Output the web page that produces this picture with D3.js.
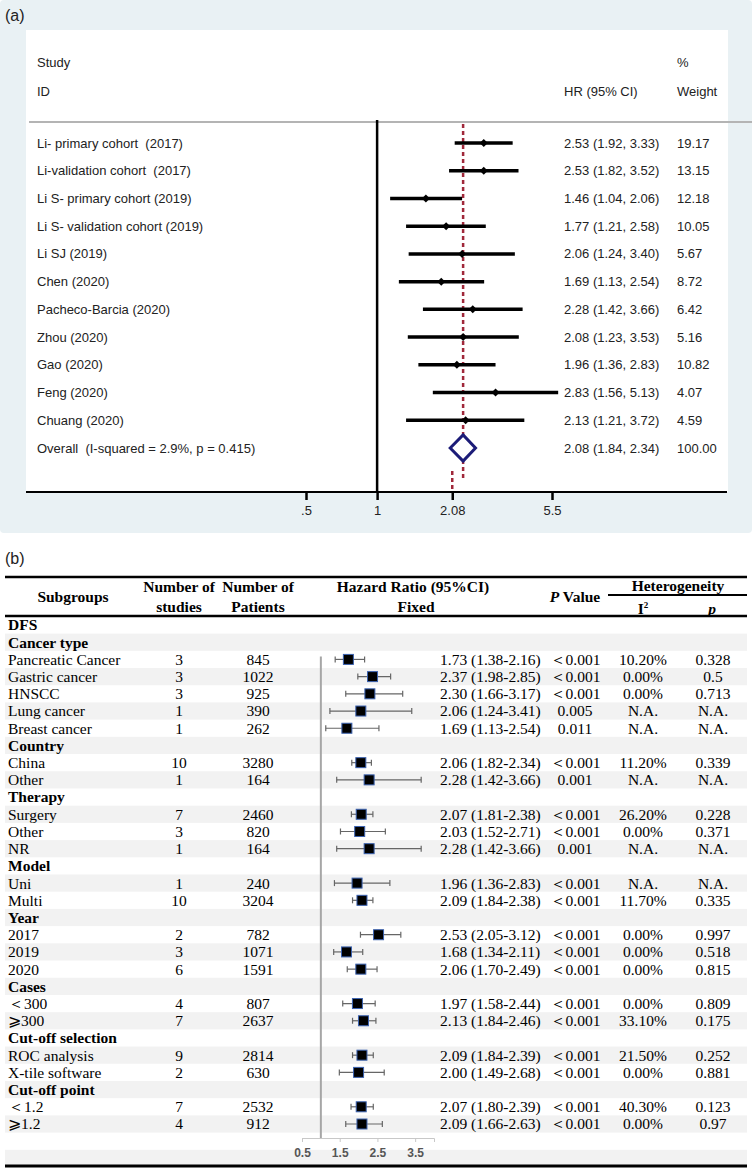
<!DOCTYPE html>
<html>
<head>
<meta charset="utf-8">
<script src="https://cdn.jsdelivr.net/npm/d3@7"></script>
<style>
  body { margin: 0; background: #fff; }
  text { white-space: pre; }
</style>
</head>
<body>
<div id="chart"></div>
<script>
// ---- panel (a) data ----
var studyNames = ["Li- primary cohort  (2017)", "Li-validation cohort  (2017)", "Li S- primary cohort (2019)",
  "Li S- validation cohort (2019)", "Li SJ (2019)", "Chen (2020)", "Pacheco-Barcia (2020)",
  "Zhou (2020)", "Gao (2020)", "Feng (2020)", "Chuang (2020)"];
var studyHR = [2.53, 2.53, 1.46, 1.77, 2.06, 1.69, 2.28, 2.08, 1.96, 2.83, 2.13];
var studyLo = [1.92, 1.82, 1.04, 1.21, 1.24, 1.13, 1.42, 1.23, 1.36, 1.56, 1.21];
var studyHi = [3.33, 3.52, 2.06, 2.58, 3.40, 2.54, 3.66, 3.53, 2.83, 5.13, 3.72];
var studyWeight = ["19.17", "13.15", "12.18", "10.05", "5.67", "8.72", "6.42", "5.16", "10.82", "4.07", "4.59"];
var overallLabel = "Overall  (I-squared = 2.9%, p = 0.415)";
var overall = {hr: 2.08, lo: 1.84, hi: 2.34, weight: "100.00"};
var axisTicksA = [0.5, 1, 2.08, 5.5];
var axisLabelsA = [".5", "1", "2.08", "5.5"];

// ---- panel (b) data ----
var subLabels = ["DFS", "Cancer type", "Pancreatic Cancer", "Gastric cancer", "HNSCC", "Lung cancer", "Breast cancer",
  "Country", "China", "Other", "Therapy", "Surgery", "Other", "NR", "Model", "Uni", "Multi",
  "Year", "2017", "2019", "2020", "Cases", "＜300", "⩾300", "Cut-off selection", "ROC analysis", "X-tile software",
  "Cut-off point", "＜1.2", "⩾1.2"];
var subStudies = [null, null, 3, 3, 3, 1, 1, null, 10, 1, null, 7, 3, 1, null, 1, 10, null, 2, 3, 6, null, 4, 7, null, 9, 2, null, 7, 4];
var subPatients = [null, null, 845, 1022, 925, 390, 262, null, 3280, 164, null, 2460, 820, 164, null, 240, 3204, null, 782, 1071, 1591, null, 807, 2637, null, 2814, 630, null, 2532, 912];
var subHR = [null, null, 1.73, 2.37, 2.30, 2.06, 1.69, null, 2.06, 2.28, null, 2.07, 2.03, 2.28, null, 1.96, 2.09, null, 2.53, 1.68, 2.06, null, 1.97, 2.13, null, 2.09, 2.00, null, 2.07, 2.09];
var subLo = [null, null, 1.38, 1.98, 1.66, 1.24, 1.13, null, 1.82, 1.42, null, 1.81, 1.52, 1.42, null, 1.36, 1.84, null, 2.05, 1.34, 1.70, null, 1.58, 1.84, null, 1.84, 1.49, null, 1.80, 1.66];
var subHi = [null, null, 2.16, 2.85, 3.17, 3.41, 2.54, null, 2.34, 3.66, null, 2.38, 2.71, 3.66, null, 2.83, 2.38, null, 3.12, 2.11, 2.49, null, 2.44, 2.46, null, 2.39, 2.68, null, 2.39, 2.63];
var subP = [null, null, "＜0.001", "＜0.001", "＜0.001", "0.005", "0.011", null, "＜0.001", "0.001", null, "＜0.001", "＜0.001", "0.001", null, "＜0.001", "＜0.001", null, "＜0.001", "＜0.001", "＜0.001", null, "＜0.001", "＜0.001", null, "＜0.001", "＜0.001", null, "＜0.001", "＜0.001"];
var subI2 = [null, null, "10.20%", "0.00%", "0.00%", "N.A.", "N.A.", null, "11.20%", "N.A.", null, "26.20%", "0.00%", "N.A.", null, "N.A.", "11.70%", null, "0.00%", "0.00%", "0.00%", null, "0.00%", "33.10%", null, "21.50%", "0.00%", null, "40.30%", "0.00%"];
var subPhet = [null, null, "0.328", "0.5", "0.713", "N.A.", "N.A.", null, "0.339", "N.A.", null, "0.228", "0.371", "N.A.", null, "N.A.", "0.335", null, "0.997", "0.518", "0.815", null, "0.809", "0.175", null, "0.252", "0.881", null, "0.123", "0.97"];
var axisTicksB = [0.5, 1.5, 2.5, 3.5];

var svgWidth = 752;
var svgHeight = 1170;

var svg = d3.select("#chart").append("svg")
  .attr("width", svgWidth)
  .attr("height", svgHeight);

var sans = "'Liberation Sans', Arial, sans-serif";
var serif = "'Liberation Serif', 'Times New Roman', serif";

// ================= panel (a) =================
var panelA = svg.append("g").attr("font-family", sans).attr("font-size", 13).attr("fill", "#222");

panelA.append("rect").attr("x", 0).attr("y", 0).attr("width", 752).attr("height", 533)
  .attr("rx", 4).attr("fill", "#e9f1f4");
panelA.append("rect").attr("x", 26).attr("y", 30).attr("width", 702).attr("height", 462)
  .attr("fill", "#fff");

panelA.append("text").attr("x", 5).attr("y", 15).attr("dy", "0.35em")
  .attr("font-size", 16).text("(a)");

// axis scale (ticks and null line) and plot scale (marks) as they sit in the picture
var xA = d3.scaleLog().domain([0.5, 5.5]).range([306, 552]);
var xP = d3.scaleLog().domain([1, 5.5]).range([386, 565.5]);

var rowA = d3.scaleLinear().domain([0, 11]).range([143, 448]);

var headA = [
  {t: "Study", x: 37, y: 62},
  {t: "ID", x: 37, y: 91},
  {t: "HR (95% CI)", x: 564, y: 91},
  {t: "%", x: 677, y: 62},
  {t: "Weight", x: 677, y: 91}
];
panelA.selectAll(".headA").data(headA).enter().append("text")
  .attr("x", d => d.x).attr("y", d => d.y).attr("dy", "0.35em").text(d => d.t);

panelA.append("line").attr("x1", 29).attr("x2", 752).attr("y1", 122).attr("y2", 122)
  .attr("stroke", "#b4b4b4").attr("stroke-width", 2);

// null line
panelA.append("line").attr("x1", xA(1)).attr("x2", xA(1)).attr("y1", 120).attr("y2", 492)
  .attr("stroke", "#000").attr("stroke-width", 2.5);

// overall dashed line
panelA.append("line").attr("x1", xP(overall.hr)).attr("x2", xP(overall.hr))
  .attr("y1", 124).attr("y2", 478)
  .attr("stroke", "#a0283a").attr("stroke-width", 2.5).attr("stroke-dasharray", "4,3");
panelA.append("line").attr("x1", xA(overall.hr)).attr("x2", xA(overall.hr))
  .attr("y1", 471).attr("y2", 492)
  .attr("stroke", "#a0283a").attr("stroke-width", 2.5).attr("stroke-dasharray", "4,3");

var studyRows = panelA.selectAll(".study").data(studyNames).enter().append("g");

studyRows.append("text").attr("x", 37).attr("y", (d, i) => rowA(i)).attr("dy", "0.35em").text(d => d);

studyRows.append("line")
  .attr("x1", (d, i) => xP(studyLo[i])).attr("x2", (d, i) => xP(studyHi[i]))
  .attr("y1", (d, i) => rowA(i)).attr("y2", (d, i) => rowA(i))
  .attr("stroke", "#000").attr("stroke-width", 3.5);

studyRows.append("path")
  .attr("d", function(d, i) {
    var cx = xP(studyHR[i]), cy = rowA(i), s = 4;
    return "M" + (cx - s) + "," + cy + "L" + cx + "," + (cy - s) + "L" + (cx + s) + "," + cy + "L" + cx + "," + (cy + s) + "Z";
  })
  .attr("fill", "#000");

studyRows.append("text").attr("x", 564).attr("y", (d, i) => rowA(i)).attr("dy", "0.35em")
  .text((d, i) => studyHR[i].toFixed(2) + " (" + studyLo[i].toFixed(2) + ", " + studyHi[i].toFixed(2) + ")");
studyRows.append("text").attr("x", 677).attr("y", (d, i) => rowA(i)).attr("dy", "0.35em")
  .text((d, i) => studyWeight[i]);

// overall row
var oy = rowA(11);
panelA.append("text").attr("x", 37).attr("y", oy).attr("dy", "0.35em").text(overallLabel);
panelA.append("path")
  .attr("d", "M" + xP(overall.lo) + "," + oy + "L" + xP(overall.hr) + "," + (oy - 13) +
    "L" + xP(overall.hi) + "," + oy + "L" + xP(overall.hr) + "," + (oy + 13) + "Z")
  .attr("fill", "#fff").attr("stroke", "#1c1c78").attr("stroke-width", 3);
panelA.append("text").attr("x", 564).attr("y", oy).attr("dy", "0.35em")
  .text(overall.hr.toFixed(2) + " (" + overall.lo.toFixed(2) + ", " + overall.hi.toFixed(2) + ")");
panelA.append("text").attr("x", 677).attr("y", oy).attr("dy", "0.35em").text(overall.weight);

// bottom axis
panelA.append("line").attr("x1", 26).attr("x2", 727).attr("y1", 492).attr("y2", 492)
  .attr("stroke", "#000").attr("stroke-width", 2);
var axisA = panelA.append("g").attr("transform", "translate(0,492)")
  .call(d3.axisBottom(xA).tickValues(axisTicksA).tickFormat((d, i) => axisLabelsA[i]).tickSize(8).tickPadding(6));
axisA.select(".domain").remove();
axisA.selectAll(".tick line").attr("stroke", "#000").attr("stroke-width", 2.5);
axisA.selectAll(".tick text").attr("font-family", sans).attr("font-size", 13).attr("fill", "#222");

// ================= panel (b) =================
var panelB = svg.append("g").attr("font-family", serif).attr("font-size", 15.5).attr("fill", "#000");

panelB.append("text").attr("x", 5).attr("y", 558).attr("dy", "0.35em")
  .attr("font-family", sans).attr("font-size", 16).attr("fill", "#222").text("(b)");

var rowB = d3.scaleLinear().domain([0, 29]).range([625, 1124]);
var rowH = rowB(1) - rowB(0);

// zebra bands (rows + axis rows)
var bandIdx = d3.range(32).filter(i => i % 2 === 1);
panelB.selectAll(".band").data(bandIdx).enter().append("rect")
  .attr("x", 5).attr("width", 742)
  .attr("y", d => rowB(d) - rowH / 2).attr("height", rowH)
  .attr("fill", "#f2f2f2");

// table rules
panelB.append("line").attr("x1", 5).attr("x2", 747).attr("y1", 577).attr("y2", 577)
  .attr("stroke", "#000").attr("stroke-width", 2.5);
panelB.append("line").attr("x1", 5).attr("x2", 747).attr("y1", 616).attr("y2", 616)
  .attr("stroke", "#000").attr("stroke-width", 2.5);
panelB.append("line").attr("x1", 608).attr("x2", 747).attr("y1", 595).attr("y2", 595)
  .attr("stroke", "#000").attr("stroke-width", 2);
panelB.append("line").attr("x1", 5).attr("x2", 747).attr("y1", 1166).attr("y2", 1166)
  .attr("stroke", "#000").attr("stroke-width", 3);

// header
var headB = [
  {t: "Subgroups", x: 73, y: 597},
  {t: "Number of", x: 179, y: 587},
  {t: "studies", x: 179, y: 607},
  {t: "Number of", x: 258, y: 587},
  {t: "Patients", x: 258, y: 607},
  {t: "Hazard Ratio (95%CI)", x: 413, y: 587},
  {t: "Fixed", x: 416, y: 607},
  {t: "Heterogeneity", x: 678, y: 586}
];
panelB.selectAll(".headB").data(headB).enter().append("text")
  .attr("x", d => d.x).attr("y", d => d.y).attr("dy", "0.35em")
  .attr("text-anchor", "middle").attr("font-weight", "bold").text(d => d.t);

var pv = panelB.append("text").attr("x", 575).attr("y", 597).attr("dy", "0.35em")
  .attr("text-anchor", "middle").attr("font-weight", "bold");
pv.append("tspan").attr("font-style", "italic").text("P");
pv.append("tspan").text(" Value");

var i2h = panelB.append("text").attr("x", 643).attr("y", 609).attr("dy", "0.35em")
  .attr("text-anchor", "middle").attr("font-weight", "bold");
i2h.append("tspan").text("I");
i2h.append("tspan").attr("font-size", 9).attr("dy", "-0.7em").text("2");

panelB.append("text").attr("x", 712).attr("y", 609).attr("dy", "0.35em")
  .attr("text-anchor", "middle").attr("font-weight", "bold").attr("font-style", "italic").text("p");

// forest scale
var xB = d3.scaleLinear().domain([0.5, 4]).range([302, 434]);

panelB.append("line").attr("x1", xB(1)).attr("x2", xB(1))
  .attr("y1", rowB(2) - 3).attr("y2", 1138)
  .attr("stroke", "#a6a6a6").attr("stroke-width", 2);

// row labels
panelB.selectAll(".lab").data(d3.range(subLabels.length)).enter().append("text")
  .attr("x", 8).attr("y", i => rowB(i)).attr("dy", "0.35em")
  .attr("font-weight", i => subHR[i] === null ? "bold" : "normal")
  .text(i => subLabels[i]);

var idx = d3.range(subLabels.length).filter(i => subHR[i] !== null);
var dr = panelB.selectAll(".drow").data(idx).enter().append("g");

dr.append("text").attr("x", 179).attr("y", i => rowB(i)).attr("dy", "0.35em")
  .attr("text-anchor", "middle").text(i => subStudies[i]);
dr.append("text").attr("x", 258).attr("y", i => rowB(i)).attr("dy", "0.35em")
  .attr("text-anchor", "middle").text(i => subPatients[i]);
dr.append("text").attr("x", 440).attr("y", i => rowB(i)).attr("dy", "0.35em")
  .text(i => subHR[i].toFixed(2) + " (" + subLo[i].toFixed(2) + "-" + subHi[i].toFixed(2) + ")");
dr.append("text").attr("x", 575).attr("y", i => rowB(i)).attr("dy", "0.35em")
  .attr("text-anchor", "middle").text(i => subP[i]);
dr.append("text").attr("x", 643).attr("y", i => rowB(i)).attr("dy", "0.35em")
  .attr("text-anchor", "middle").text(i => subI2[i]);
dr.append("text").attr("x", 713).attr("y", i => rowB(i)).attr("dy", "0.35em")
  .attr("text-anchor", "middle").text(i => subPhet[i]);

// CI whiskers + caps
dr.append("line")
  .attr("x1", i => xB(subLo[i])).attr("x2", i => xB(subHi[i]))
  .attr("y1", i => rowB(i)).attr("y2", i => rowB(i))
  .attr("stroke", "#666").attr("stroke-width", 1.2);
dr.append("line")
  .attr("x1", i => xB(subLo[i])).attr("x2", i => xB(subLo[i]))
  .attr("y1", i => rowB(i) - 3).attr("y2", i => rowB(i) + 3)
  .attr("stroke", "#666").attr("stroke-width", 1.2);
dr.append("line")
  .attr("x1", i => xB(subHi[i])).attr("x2", i => xB(subHi[i]))
  .attr("y1", i => rowB(i) - 3).attr("y2", i => rowB(i) + 3)
  .attr("stroke", "#666").attr("stroke-width", 1.2);
dr.append("rect")
  .attr("x", i => xB(subHR[i]) - 5).attr("y", i => rowB(i) - 5)
  .attr("width", 10).attr("height", 10)
  .attr("fill", "#000").attr("stroke", "#3b62b0").attr("stroke-width", 1);

// forest axis
var axisB = panelB.append("g").attr("transform", "translate(0,1138)")
  .call(d3.axisBottom(xB).tickValues(axisTicksB).tickFormat(d3.format(".1f")).tickSize(4).tickPadding(6));
axisB.select(".domain").attr("stroke", "#c8c8c8");
axisB.selectAll(".tick line").attr("stroke", "#c8c8c8");
axisB.selectAll(".tick text").attr("font-family", sans).attr("font-size", 12)
  .attr("font-weight", "bold").attr("fill", "#555");
</script>
</body>
</html>
